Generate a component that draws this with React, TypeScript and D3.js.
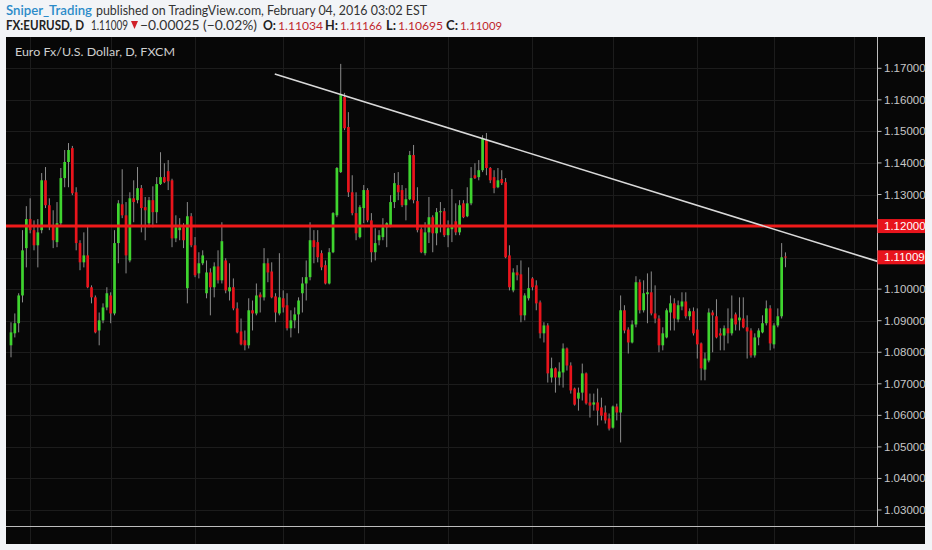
import React from 'react';
import * as d3 from 'd3';

// daily EURUSD candles (oldest first)
const opens = [
  1.0822, 1.0860, 1.0892, 1.0980, 1.1130, 1.1222, 1.1187, 1.1139, 1.1187, 1.1345,
  1.1266, 1.1203, 1.1149, 1.1209, 1.1352, 1.1403, 1.1447, 1.1307, 1.1146, 1.1085,
  1.1107, 1.1006, 1.0974, 1.0869, 1.0901, 1.0942, 1.0980, 1.0923, 1.1146, 1.1269,
  1.1234, 1.1091, 1.1288, 1.1282, 1.1320, 1.1260, 1.1209, 1.1282, 1.1244, 1.1333,
  1.1355, 1.1374, 1.1345, 1.1161, 1.1187, 1.1196, 1.1003, 1.1231, 1.1139, 1.1050,
  1.1082, 1.0987, 1.1053, 1.1006, 1.1072, 1.1028, 1.1091, 1.0993, 1.1006, 1.0939,
  1.0866, 1.0838, 1.0822, 1.0933, 1.0923, 1.0983, 1.0974, 1.1082, 1.1056, 1.0977,
  1.0923, 1.0971, 1.0949, 1.0876, 1.0901, 1.0920, 1.0987, 1.1018, 1.1038, 1.1155,
  1.1149, 1.1114, 1.1076, 1.1018, 1.1117, 1.1234, 1.1371, 1.1609, 1.1514, 1.1307,
  1.1241, 1.1165, 1.1257, 1.1314, 1.1218, 1.1117, 1.1155, 1.1165, 1.1196, 1.1203,
  1.1276, 1.1330, 1.1314, 1.1266, 1.1285, 1.1425, 1.1279, 1.1190, 1.1114, 1.1180,
  1.1228, 1.1177, 1.1244, 1.1247, 1.1171, 1.1190, 1.1215, 1.1180, 1.1272, 1.1231,
  1.1272, 1.1361, 1.1355, 1.1377, 1.1472, 1.1384, 1.1355, 1.1323, 1.1349, 1.1339,
  1.1107, 1.0996, 1.1053, 1.1047, 1.0917, 1.0971, 1.1034, 1.1012, 1.0958, 1.0860,
  1.0885, 1.0720, 1.0749, 1.0720, 1.0736, 1.0812, 1.0758, 1.0685, 1.0653, 1.0672,
  1.0733, 1.0641, 1.0634, 1.0641, 1.0625, 1.0609, 1.0590, 1.0561, 1.0628, 1.0609,
  1.0933, 1.0872, 1.0831, 1.0888, 1.1022, 1.0933, 1.0984, 1.0990, 1.0923, 1.0907,
  1.0822, 1.0847, 1.0926, 1.0955, 1.0904, 1.0945, 1.0961, 1.0914, 1.0930, 1.0872,
  1.0828, 1.0745, 1.0774, 1.0926, 1.0914, 1.0860, 1.0853, 1.0876, 1.0860, 1.0920,
  1.0901, 1.0907, 1.0879, 1.0869, 1.0790, 1.0847, 1.0863, 1.0892, 1.0939, 1.0825,
  1.0885, 1.0914, 1.11034,
];

const highs = [
  1.0895, 1.0923, 1.0987, 1.1187, 1.1263, 1.1288, 1.1218, 1.1222, 1.1368, 1.1387,
  1.1288, 1.1250, 1.1276, 1.1384, 1.1441, 1.1463, 1.1454, 1.1323, 1.1155, 1.1180,
  1.1203, 1.1012, 1.0980, 1.0926, 1.0955, 1.1006, 1.0990, 1.1187, 1.1282, 1.1380,
  1.1276, 1.1307, 1.1345, 1.1387, 1.1330, 1.1292, 1.1292, 1.1326, 1.1355, 1.1434,
  1.1399, 1.1409, 1.1350, 1.1234, 1.1225, 1.1209, 1.1276, 1.1241, 1.1165, 1.1117,
  1.1123, 1.1091, 1.1066, 1.1085, 1.1123, 1.1212, 1.1098, 1.1082, 1.1034, 1.0958,
  1.0907, 1.0869, 1.0971, 1.0964, 1.1018, 1.0990, 1.1130, 1.1098, 1.1085, 1.0987,
  1.1114, 1.0996, 1.0987, 1.0933, 1.0942, 1.0974, 1.1038, 1.1091, 1.1212, 1.1187,
  1.1187, 1.1123, 1.1091, 1.1130, 1.1244, 1.1387, 1.1714, 1.1622, 1.1561, 1.1361,
  1.1307, 1.1266, 1.1330, 1.1320, 1.1241, 1.1193, 1.1187, 1.1225, 1.1212, 1.1298,
  1.1368, 1.1371, 1.1330, 1.1320, 1.1438, 1.1457, 1.1323, 1.1196, 1.1212, 1.1292,
  1.1234, 1.1257, 1.1276, 1.1257, 1.1218, 1.1317, 1.1272, 1.1282, 1.1282, 1.1323,
  1.1387, 1.1399, 1.1409, 1.1488, 1.1495, 1.1387, 1.1377, 1.1384, 1.1377, 1.1352,
  1.1139, 1.1066, 1.1076, 1.1091, 1.0987, 1.1069, 1.1038, 1.1028, 1.0964, 1.0895,
  1.0892, 1.0783, 1.0752, 1.0768, 1.0828, 1.0815, 1.0768, 1.0688, 1.0688, 1.0764,
  1.0736, 1.0669, 1.0669, 1.0685, 1.0656, 1.0631, 1.0606, 1.0631, 1.0637, 1.0980,
  1.0949, 1.0879, 1.0901, 1.1041, 1.1031, 1.1028, 1.1050, 1.1056, 1.1012, 1.0917,
  1.0879, 1.0939, 1.0980, 1.0971, 1.0964, 1.0990, 1.0990, 1.0939, 1.0942, 1.0939,
  1.0831, 1.0799, 1.0939, 1.0933, 1.0968, 1.0876, 1.0885, 1.0939, 1.0980, 1.0926,
  1.0974, 1.0974, 1.0917, 1.0876, 1.0860, 1.0876, 1.0917, 1.0964, 1.0949, 1.0892,
  1.0939, 1.1146, 1.11166,
];

const lows = [
  1.0784, 1.0847, 1.0863, 1.0958, 1.1069, 1.1177, 1.1123, 1.1069, 1.1177, 1.1257,
  1.1187, 1.1130, 1.1133, 1.1203, 1.1323, 1.1323, 1.1298, 1.1123, 1.1060, 1.1069,
  1.1003, 1.0955, 1.0860, 1.0822, 1.0892, 1.0933, 1.0892, 1.0917, 1.1082, 1.1225,
  1.1050, 1.1085, 1.1212, 1.1272, 1.1180, 1.1155, 1.1196, 1.1196, 1.1209, 1.1330,
  1.1336, 1.1314, 1.1133, 1.1149, 1.1155, 1.1130, 1.0955, 1.1133, 1.1038, 1.1034,
  1.1076, 1.0971, 1.0917, 1.0974, 1.1018, 1.1018, 1.0987, 1.0964, 1.0933, 1.0860,
  1.0822, 1.0806, 1.0812, 1.0869, 1.0917, 1.0926, 1.0964, 1.1022, 1.0971, 1.0895,
  1.0917, 1.0926, 1.0869, 1.0847, 1.0876, 1.0860, 1.0926, 1.0964, 1.1028, 1.1082,
  1.1085, 1.1060, 1.1015, 1.1015, 1.1114, 1.1228, 1.1368, 1.1504, 1.1292, 1.1234,
  1.1155, 1.1161, 1.1209, 1.1212, 1.1085, 1.1091, 1.1139, 1.1155, 1.1133, 1.1196,
  1.1257, 1.1282, 1.1260, 1.1218, 1.1282, 1.1272, 1.1180, 1.1114, 1.1107, 1.1146,
  1.1117, 1.1139, 1.1180, 1.1165, 1.1133, 1.1149, 1.1171, 1.1171, 1.1225, 1.1228,
  1.1266, 1.1349, 1.1345, 1.1371, 1.1361, 1.1336, 1.1304, 1.1320, 1.1330, 1.1098,
  1.0996, 1.0990, 1.1028, 1.0895, 1.0901, 1.0964, 1.0996, 1.0933, 1.0844, 1.0831,
  1.0704, 1.0704, 1.0672, 1.0695, 1.0688, 1.0742, 1.0669, 1.0631, 1.0615, 1.0647,
  1.0634, 1.0593, 1.0615, 1.0568, 1.0584, 1.0574, 1.0552, 1.0558, 1.0584, 1.0514,
  1.0860, 1.0796, 1.0828, 1.0879, 1.0923, 1.0926, 1.0892, 1.0917, 1.0892, 1.0800,
  1.0806, 1.0844, 1.0869, 1.0869, 1.0895, 1.0933, 1.0907, 1.0901, 1.0853, 1.0780,
  1.0711, 1.0711, 1.0768, 1.0800, 1.0844, 1.0806, 1.0806, 1.0828, 1.0853, 1.0869,
  1.0869, 1.0876, 1.0780, 1.0783, 1.0783, 1.0822, 1.0860, 1.0885, 1.0806, 1.0812,
  1.0879, 1.0907, 1.10695,
];

const closes = [
  1.0863, 1.0892, 1.0980, 1.1123, 1.1222, 1.1187, 1.1139, 1.1180, 1.1345, 1.1266,
  1.1203, 1.1155, 1.1209, 1.1352, 1.1403, 1.1441, 1.1304, 1.1146, 1.1085, 1.1107,
  1.1006, 1.0974, 1.0863, 1.0901, 1.0942, 1.0987, 1.0923, 1.1146, 1.1272, 1.1234,
  1.1107, 1.1288, 1.1276, 1.1320, 1.1257, 1.1250, 1.1282, 1.1244, 1.1333, 1.1355,
  1.1339, 1.1342, 1.1161, 1.1196, 1.1196, 1.1155, 1.1231, 1.1139, 1.1044, 1.1082,
  1.1107, 1.1053, 1.1006, 1.1072, 1.1028, 1.1152, 1.0996, 1.1006, 1.0939, 1.0863,
  1.0825, 1.0822, 1.0933, 1.0923, 1.0980, 1.0974, 1.1082, 1.1053, 1.0974, 1.0926,
  1.0974, 1.0942, 1.0876, 1.0901, 1.0920, 1.0964, 1.1018, 1.1038, 1.1155, 1.1133,
  1.1101, 1.1069, 1.1018, 1.1117, 1.1241, 1.1384, 1.1615, 1.1510, 1.1307, 1.1241,
  1.1177, 1.1260, 1.1314, 1.1218, 1.1117, 1.1146, 1.1171, 1.1196, 1.1209, 1.1276,
  1.1336, 1.1307, 1.1266, 1.1285, 1.1425, 1.1282, 1.1187, 1.1117, 1.1180, 1.1228,
  1.1177, 1.1244, 1.1247, 1.1171, 1.1193, 1.1199, 1.1180, 1.1266, 1.1228, 1.1272,
  1.1352, 1.1352, 1.1377, 1.1476, 1.1384, 1.1345, 1.1320, 1.1345, 1.1336, 1.1101,
  1.1006, 1.1053, 1.1044, 1.0917, 1.0980, 1.1003, 1.1006, 1.0955, 1.0860, 1.0885,
  1.0733, 1.0749, 1.0720, 1.0739, 1.0812, 1.0758, 1.0679, 1.0634, 1.0672, 1.0733,
  1.0638, 1.0631, 1.0641, 1.0615, 1.0599, 1.0584, 1.0558, 1.0628, 1.0609, 1.0933,
  1.0869, 1.0831, 1.0888, 1.1022, 1.0933, 1.0987, 1.0990, 1.0923, 1.0907, 1.0822,
  1.0860, 1.0933, 1.0955, 1.0907, 1.0949, 1.0961, 1.0914, 1.0930, 1.0860, 1.0825,
  1.0749, 1.0780, 1.0926, 1.0917, 1.0847, 1.0853, 1.0876, 1.0860, 1.0907, 1.0888,
  1.0910, 1.0879, 1.0866, 1.0790, 1.0847, 1.0869, 1.0892, 1.0939, 1.0828, 1.0885,
  1.0914, 1.1101, 1.11009,
];

// price axis ticks
const priceTicks = [1.03, 1.04, 1.05, 1.06, 1.07, 1.08, 1.09, 1.1, 1.11, 1.12, 1.13, 1.14, 1.15, 1.16, 1.17];
// bar index where each month starts (vertical grid)
const monthStarts = [5, 26, 48, 71, 92, 114, 136, 157, 179, 199, 220];
// drawings
const levelPrice = 1.12;
const trendIdx = [68.8, 226];
const trendPrice = [1.1682, 1.1088];

const lastPrice = 1.11009;

const W = 932;
const H = 550;
const pane = { left: 6, top: 37, right: 925, bottom: 544, axisX: 877.5, timeY: 526 };

const GREEN = '#3fd42f';
const RED = '#e8141c';
const fmt = d3.format('.5f');

export default function App() {
  const x = d3.scaleLinear().domain([0, 226]).range([11, pane.axisX]);
  const y = d3.scaleLinear().domain([1.03, 1.17]).range([510, 68.3]);
  const bodyW = 2.7;

  const candles = closes.map((c, i) => {
    const o = opens[i];
    const up = c >= o;
    const cx = x(i);
    const top = y(Math.max(o, c));
    const bot = y(Math.min(o, c));
    return (
      <g key={i}>
        <line x1={cx} x2={cx} y1={y(highs[i])} y2={y(lows[i])} stroke="#8c8c8c" strokeWidth={1} />
        <rect x={cx - bodyW / 2} y={top} width={bodyW} height={Math.max(1, bot - top)} fill={up ? GREEN : RED} />
      </g>
    );
  });

  const trend = d3.line<number>()
    .x((d) => x(d))
    .y((d, i) => y(trendPrice[i]));

  const clipId = 'pane-clip';

  // header OHLC pieces: label, value, x positions
  const ohlc = [
    { k: 'O:', v: opens[opens.length - 1], kx: 263, kw: 13, vx: 278, vw: 45 },
    { k: 'H:', v: highs[highs.length - 1], kx: 325, kw: 13, vx: 340, vw: 42 },
    { k: 'L:', v: lows[lows.length - 1], kx: 386, kw: 10, vx: 398, vw: 45 },
    { k: 'C:', v: closes[closes.length - 1], kx: 446, kw: 12, vx: 460, vw: 42 },
  ];

  return (
    <svg width={W} height={H} style={{ position: 'absolute', left: 0, top: 0, display: 'block' }}
      fontFamily="'Liberation Sans', Arial, sans-serif">
      <rect width={W} height={H} fill="#f2f4f7" />

      {/* header */}
      <g fontFamily="Lato, 'Open Sans', sans-serif" fontSize={13}>
        <text x={6} y={14.5} fill="#2b8bc9" fontWeight={600} textLength={86} lengthAdjust="spacingAndGlyphs">Sniper_Trading</text>
        <text x={96} y={14.5} fill="#333" textLength={331} lengthAdjust="spacingAndGlyphs">published on TradingView.com, February 04, 2016 03:02 EST</text>

        <text x={6} y={29.5} fill="#222" fontWeight={700} textLength={78} lengthAdjust="spacingAndGlyphs">FX:EURUSD, D</text>
        <text x={91} y={29.5} fill="#333" fontSize={12.5} textLength={37} lengthAdjust="spacingAndGlyphs">{fmt(lastPrice)}</text>
        <path d="M131,21 L138,21 L134.5,29 Z" fill="#d0202a" />
        <text x={140} y={29.5} fill="#333" textLength={117} lengthAdjust="spacingAndGlyphs">−0.00025 (−0.02%)</text>
        {ohlc.map((d) => (
          <g key={d.k}>
            <text x={d.kx} y={29.5} fill="#222" fontWeight={700} fontSize={12.5} textLength={d.kw} lengthAdjust="spacingAndGlyphs">{d.k}</text>
            <text x={d.vx} y={29.5} fill="#c0272d" fontSize={12} textLength={d.vw} lengthAdjust="spacingAndGlyphs">{fmt(d.v)}</text>
          </g>
        ))}
      </g>

      {/* chart pane */}
      <rect x={pane.left} y={pane.top} width={pane.right - pane.left} height={pane.bottom - pane.top} fill="#070707" />
      <defs>
        <clipPath id={clipId}>
          <rect x={pane.left} y={pane.top} width={pane.axisX - pane.left} height={pane.timeY - pane.top} />
        </clipPath>
      </defs>

      <g stroke="#1c1c1c" strokeWidth={1}>
        {priceTicks.map((p) => (
          <line key={p} x1={pane.left} x2={pane.axisX} y1={Math.round(y(p)) + 0.5} y2={Math.round(y(p)) + 0.5} />
        ))}
        {monthStarts.map((m) => (
          <line key={m} x1={Math.round(x(m)) + 0.5} x2={Math.round(x(m)) + 0.5} y1={pane.top} y2={pane.bottom} />
        ))}
      </g>

      <text x={15} y={56} fill="#cfcfcf" fontSize={12} fontFamily="Lato, 'Open Sans', sans-serif"
        textLength={160} lengthAdjust="spacingAndGlyphs">Euro Fx/U.S. Dollar, D, FXCM</text>

      <g clipPath={`url(#${clipId})`}>
        {candles}
        <line x1={pane.left} x2={pane.axisX} y1={y(levelPrice)} y2={y(levelPrice)} stroke="#f01a1a" strokeWidth={3} />
        <path d={trend(trendIdx) ?? ''} stroke="#d9d9d9" strokeWidth={1.6} fill="none" />
      </g>

      {/* price axis */}
      <line x1={pane.axisX} x2={pane.axisX} y1={pane.top} y2={pane.timeY} stroke="#bdbdbd" strokeWidth={1} />
      <line x1={pane.left} x2={pane.right} y1={pane.timeY + 0.5} y2={pane.timeY + 0.5} stroke="#bdbdbd" strokeWidth={1} />
      <g fontSize={11.5} fill="#c8c8c8">
        {priceTicks.map((p) => (
          <g key={p}>
            <line x1={pane.axisX} x2={pane.axisX + 4} y1={y(p)} y2={y(p)} stroke="#bdbdbd" />
            <text x={884} y={y(p)} dy="0.35em">{fmt(p)}</text>
          </g>
        ))}
      </g>

      {/* price labels */}
      {[levelPrice, lastPrice].map((p) => (
        <g key={p}>
          <rect x={pane.axisX} y={y(p) - 7} width={pane.right - pane.axisX} height={14} fill={RED} />
          <text x={884} y={y(p)} dy="0.35em" fontSize={11.5} fill="#fff">{fmt(p)}</text>
        </g>
      ))}
    </svg>
  );
}
